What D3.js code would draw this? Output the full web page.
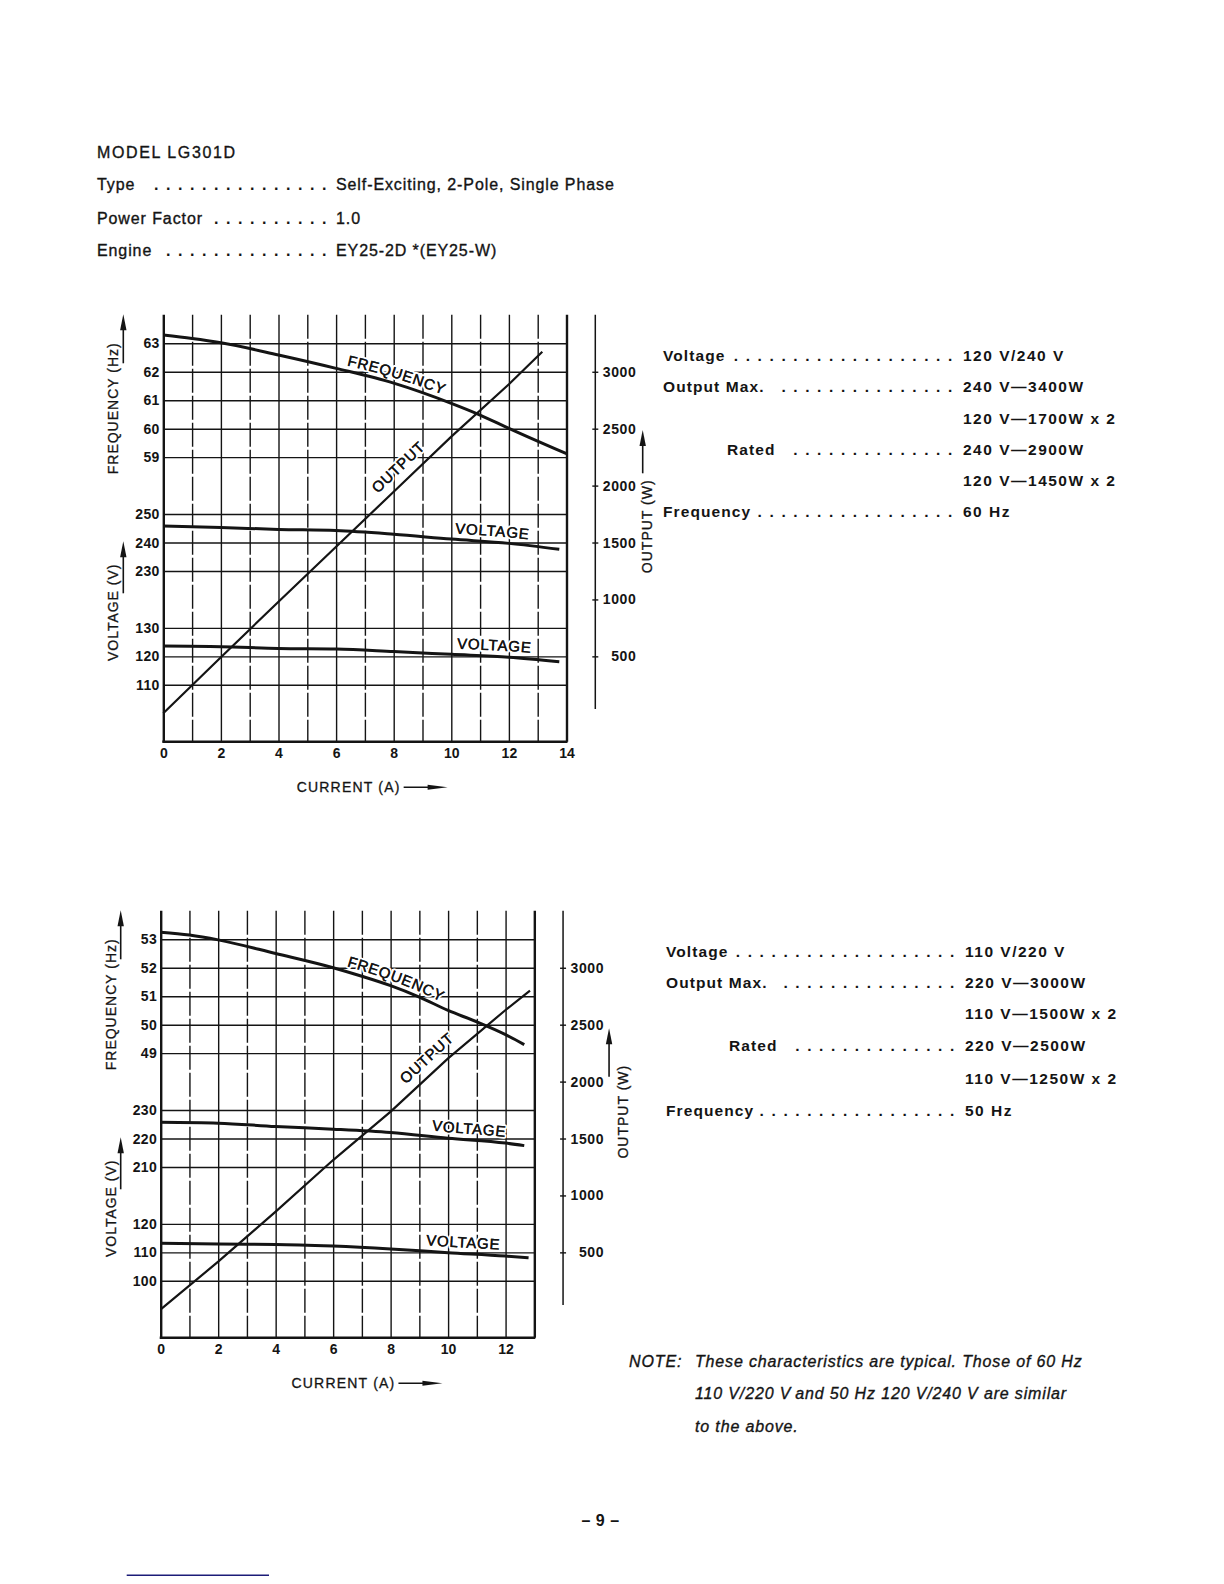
<!DOCTYPE html>
<html>
<head>
<meta charset="utf-8">
<script src="https://cdn.jsdelivr.net/npm/d3@7"></script>
<style>
  body { margin: 0; background: #fff; }
  svg { display: block; }
</style>
</head>
<body>
<svg id="page" width="1224" height="1584"></svg>
<script>
const FONT = '"Liberation Sans", Arial, Helvetica, sans-serif';
const INK = '#141414';

// ---------- data ----------

// header
const modelName = 'MODEL LG301D';
const headLabels = ['Type', 'Power Factor', 'Engine'];
const headValues = ['Self-Exciting, 2-Pole, Single Phase', '1.0', 'EY25-2D *(EY25-W)'];

// rating tables
const rateLabels = ['Voltage', 'Output Max.', '', 'Rated', '', 'Frequency'];
const rate60Values = ['120 V/240 V', '240 V\u20143400W', '120 V\u20141700W x 2', '240 V\u20142900W', '120 V\u20141450W x 2', '60 Hz'];
const rate50Values = ['110 V/220 V', '220 V\u20143000W', '110 V\u20141500W x 2', '220 V\u20142500W', '110 V\u20141250W x 2', '50 Hz'];

// note
const noteHead = 'NOTE:';
const noteLines = ['These characteristics are typical. Those of 60 Hz',
                   '110 V/220 V\u2009and 50 Hz 120 V/240 V are similar',
                   'to the above.'];

// shared axis ticks
const outputTicks = [500, 1000, 1500, 2000, 2500, 3000];

// 60 Hz chart
const current60Ticks = [0, 2, 4, 6, 8, 10, 12, 14];
const freq60Ticks = [63, 62, 61, 60, 59];
const volt240Ticks = [250, 240, 230];
const volt120Ticks = [130, 120, 110];
const freq60I = [0, 1, 2, 4, 6, 8, 10, 11, 12, 14];
const freq60Hz = [63.29, 63.17, 63.02, 62.59, 62.12, 61.6, 60.89, 60.48, 60.01, 59.12];
const volt240I = [0, 2, 4, 6, 8, 10, 12, 13.75];
const volt240V = [245.8, 245.3, 244.6, 244.2, 242.9, 241.2, 239.7, 237.6];
const volt120I = [0, 2, 4, 6, 8, 10, 12, 13.75];
const volt120V = [123.6, 123.4, 122.8, 122.6, 121.7, 120.7, 119.7, 118.1];
const out60I = [0, 2, 4, 6, 8, 10, 12, 13.16];
const out60W = [0, 492, 980, 1463, 1946, 2430, 2890, 3176];

// 50 Hz chart
const current50Ticks = [0, 2, 4, 6, 8, 10, 12];
const freq50Ticks = [53, 52, 51, 50, 49];
const volt220Ticks = [230, 220, 210];
const volt110Ticks = [120, 110, 100];
const freq50I = [0, 1, 2, 4, 6, 7, 8, 9, 10, 11, 12, 12.65];
const freq50Hz = [53.25, 53.15, 52.98, 52.5, 52.0, 51.7, 51.37, 50.97, 50.5, 50.1, 49.65, 49.3];
const volt220I = [0, 2, 4, 6, 8, 10, 12, 12.65];
const volt220V = [225.7, 225.4, 224.2, 223.3, 222.1, 220.1, 218.4, 217.5];
const volt110I = [0, 2, 4, 6, 8, 10, 12, 12.8];
const volt110V = [113.2, 112.9, 112.8, 112.2, 111.2, 109.9, 108.7, 108.1];
const out50I = [0, 2, 4, 6, 8, 10, 12, 12.85];
const out50W = [0, 418, 858, 1311, 1736, 2204, 2629, 2800];

// ---------- page ----------
const svg = d3.select('#page');
svg.append('rect').attr('width', 1224).attr('height', 1584).attr('fill', '#fff');

function txt(parent, x, y, s, size, opts = {}) {
  return parent.append('text')
    .attr('x', x).attr('y', y)
    .attr('font-family', FONT)
    .attr('font-size', size)
    .attr('font-weight', opts.weight || 'normal')
    .attr('font-style', opts.style || 'normal')
    .attr('letter-spacing', opts.ls || 0)
    .attr('text-anchor', opts.anchor || 'start')
    .attr('fill', INK)
    .attr('stroke', opts.heavy ? INK : null)
    .attr('stroke-width', opts.heavy || null)
    .text(s);
}

// label ..... value rows
function leaderRows(labels, values, o) {
  labels.forEach((lab, i) => {
    const y = o.baselines[i];
    if (lab) {
      const lx = o.labelX + (o.indent ? o.indent[i] : 0);
      const t = txt(svg, lx, y, lab, o.size, o);
      const end = lx + t.node().getComputedTextLength();
      const lastDot = o.valueX - o.dotGap;
      const n = Math.floor((lastDot - end - o.dotLead[i]) / o.dotStep) + 1;
      svg.append('g').selectAll('text')
        .data(d3.range(n))
        .join('text')
        .attr('x', k => lastDot - k * o.dotStep)
        .attr('y', y)
        .attr('font-family', FONT).attr('font-size', o.size)
        .attr('font-weight', 'bold')
        .attr('fill', INK)
        .text('.');
    }
    txt(svg, o.valueX, y, values[i], o.size, {...o, ls: o.valueLs || o.ls});
  });
}

txt(svg, 97, 157.6, modelName, 16, {ls: 1.6, heavy: 0.35});
leaderRows(headLabels, headValues, {
  labelX: 97, valueX: 336, baselines: [190.3, 223.8, 255.9],
  size: 16, ls: 0.9, heavy: 0.35, dotStep: 12, dotGap: 14, dotLead: [8, 8, 10]
});

leaderRows(rateLabels, rate60Values, {
  labelX: 663, valueX: 963, baselines: [360.7, 392.3, 423.6, 455, 485.9, 516.9],
  indent: [0, 0, 0, 64, 0, 0], size: 15.5, ls: 1.1, valueLs: 1.5, weight: 'bold',
  dotStep: 11.9, dotGap: 15, dotLead: [2, 14, 0, 16, 0, 3]
});
leaderRows(rateLabels, rate50Values, {
  labelX: 666, valueX: 965, baselines: [956.7, 987.5, 1019, 1051, 1083.5, 1116],
  indent: [0, 0, 0, 63, 0, 0], size: 15.5, ls: 1.1, valueLs: 1.5, weight: 'bold',
  dotStep: 11.9, dotGap: 15, dotLead: [2, 14, 0, 16, 0, 3]
});

// ---------- charts ----------
function arrowUp(g, x, yFrom, yTo) {
  g.append('line').attr('x1', x).attr('x2', x).attr('y1', yFrom).attr('y2', yTo + 12)
    .attr('stroke', INK).attr('stroke-width', 1.6);
  g.append('path').attr('d', `M${x},${yTo} L${x - 3.2},${yTo + 16} L${x + 3.2},${yTo + 16} Z`).attr('fill', INK);
}

function drawChart(c) {
  const g = svg.append('g');
  const x = d3.scaleLinear().domain([0, c.nCols]).range([c.x0, c.x0 + c.nCols * c.colStep]);
  const row = d3.scaleLinear().domain([0, 14]).range([c.row0, c.row0 + 14 * c.rowStep]);
  const yFreq = d3.scaleLinear().domain(d3.extent(c.freqTicks).reverse()).range([row(0), row(4)]);
  const yHi = d3.scaleLinear().domain(d3.extent(c.hiTicks).reverse()).range([row(6), row(8)]);
  const yLo = d3.scaleLinear().domain(d3.extent(c.loTicks).reverse()).range([row(10), row(12)]);
  const yOut = d3.scaleLinear().domain([0, 3000]).range([row(13), row(1)]);
  const plotW = x(c.nCols) - x(0);
  const fmt = d3.format('d');

  // vertical grid
  const vg = g.append('g').attr('transform', `translate(0,${row(-1)})`)
    .call(d3.axisBottom(x).tickValues(d3.range(c.nCols + 1)).tickSize(row(14) - row(-1)).tickFormat(''));
  vg.select('.domain').remove();
  vg.selectAll('.tick line')
    .attr('stroke', INK)
    .attr('stroke-width', d => (d === 0 || d === c.nCols) ? 2.4 : 1.4)
    .attr('stroke-dasharray', d => (d % 2 === 1 && d !== c.nCols) ? '24,3' : null);

  // horizontal grid + left tick labels
  [[yFreq, c.freqTicks], [yHi, c.hiTicks], [yLo, c.loTicks]].forEach(([s, ticks]) => {
    const a = g.append('g').attr('transform', `translate(${x(0)},0)`)
      .call(d3.axisLeft(s).tickValues(ticks).tickFormat(fmt).tickSize(-plotW).tickPadding(3.5));
    a.select('.domain').remove();
    a.attr('font-family', FONT).attr('font-size', 14);
    a.selectAll('.tick line').attr('stroke', INK).attr('stroke-width', 1.4);
    a.selectAll('.tick text').attr('font-weight', 'bold').attr('fill', INK).attr('letter-spacing', 0.4);
  });

  // bottom frame
  g.append('line').attr('x1', x(0) - 1).attr('x2', x(c.nCols) + 1)
    .attr('y1', row(14)).attr('y2', row(14))
    .attr('stroke', INK).attr('stroke-width', 2.4);

  // current labels
  const xa = g.append('g').attr('transform', `translate(0,${row(14)})`)
    .call(d3.axisBottom(x).tickValues(c.currentTicks).tickFormat(fmt).tickSize(0).tickPadding(6.5));
  xa.select('.domain').remove();
  xa.attr('font-family', FONT).attr('font-size', 14);
  xa.selectAll('.tick text').attr('font-weight', 'bold').attr('fill', INK);

  const cy = row(14) + 50;
  const ct = txt(g, x(0) + c.currentDx, cy, 'CURRENT (A)', 14, {ls: 1.2, heavy: 0.3});
  const cEnd = x(0) + c.currentDx + ct.node().getComputedTextLength() + 3;
  g.append('line').attr('x1', cEnd).attr('x2', cEnd + 34).attr('y1', cy - 4.5).attr('y2', cy - 4.5)
    .attr('stroke', INK).attr('stroke-width', 1.5);
  g.append('path').attr('d', `M${cEnd + 44},${cy - 4.5} L${cEnd + 24},${cy - 7} L${cEnd + 24},${cy - 2} Z`).attr('fill', INK);

  // output axis on the right
  const ox = x(c.nCols + 1);
  g.append('line').attr('x1', ox).attr('x2', ox).attr('y1', row(-1)).attr('y2', row(12.85))
    .attr('stroke', INK).attr('stroke-width', 1.5);
  const ra = g.append('g').attr('transform', `translate(${ox},0)`)
    .call(d3.axisRight(yOut).tickValues(outputTicks).tickFormat(fmt).tickSize(3));
  ra.select('.domain').remove();
  ra.attr('font-family', FONT).attr('font-size', 14);
  ra.selectAll('.tick line').attr('x1', -3).attr('stroke', INK).attr('stroke-width', 1.4);
  ra.selectAll('.tick text').attr('x', 41).attr('text-anchor', 'end')
    .attr('font-weight', 'bold').attr('fill', INK).attr('letter-spacing', 0.6);

  // axis titles
  const title = (cx, cyy, s) => txt(g, 0, 0, s, 14, {ls: 1, anchor: 'middle', heavy: 0.3})
    .attr('dy', '0.36em').attr('transform', `translate(${cx},${cyy}) rotate(-90)`);
  title(x(0) - 50, row(0) + 65, 'FREQUENCY (Hz)');
  arrowUp(g, x(0) - 40, row(0) + 20, row(0) - 29);
  title(x(0) - 50, row(0) + 269, 'VOLTAGE (V)');
  arrowUp(g, x(0) - 40, row(0) + 250, row(0) + 198);
  title(ox + c.outTitle[0], row(0) + c.outTitle[1], 'OUTPUT (W)');
  arrowUp(g, ox + c.outArrow[0], row(0) + c.outArrow[1], row(0) + c.outArrow[2]);

  // series
  const series = [
    {I: c.freqI, v: c.freqV, s: yFreq, w: 3, curve: d3.curveMonotoneX, label: 'FREQUENCY', at: c.labelAt[0], dy: -5.5},
    {I: c.hiI, v: c.hiV, s: yHi, w: 3, curve: d3.curveMonotoneX, label: 'VOLTAGE', at: c.labelAt[1], dy: -6},
    {I: c.loI, v: c.loV, s: yLo, w: 3, curve: d3.curveMonotoneX, label: 'VOLTAGE', at: c.labelAt[2], dy: -6},
    {I: c.outI, v: c.outV, s: yOut, w: 2.2, curve: d3.curveLinear, label: 'OUTPUT', at: c.labelAt[3], dy: -13}
  ];

  series.forEach((sr, k) => {
    const pts = d3.zip(sr.I, sr.v);
    const id = `${c.id}-lab${k}`;
    const guide = g.append('path').attr('id', id).attr('fill', 'none').attr('stroke', 'none')
      .attr('d', d3.line().x(d => x(d[0])).y(d => sr.s(d[1]) + sr.dy).curve(sr.curve)(pts));
    const node = guide.node();
    const tx = x(sr.at);
    let lo = 0, hi = node.getTotalLength();
    for (let i = 0; i < 30; i++) {
      const mid = (lo + hi) / 2;
      if (node.getPointAtLength(mid).x < tx) lo = mid; else hi = mid;
    }
    const t = g.append('text')
      .attr('font-family', FONT).attr('font-size', 15).attr('letter-spacing', 0.8)
      .attr('fill', INK).attr('stroke', '#fff').attr('stroke-width', 4)
      .attr('stroke-linejoin', 'round').attr('paint-order', 'stroke');
    t.append('textPath').attr('href', '#' + id).attr('startOffset', lo).text(sr.label);
    // second pass gives the letters a slightly heavier print weight
    g.append('text')
      .attr('font-family', FONT).attr('font-size', 15).attr('letter-spacing', 0.8)
      .attr('fill', INK).attr('stroke', INK).attr('stroke-width', 0.3)
      .append('textPath').attr('href', '#' + id).attr('startOffset', lo).text(sr.label);
  });

  series.forEach(sr => {
    g.append('path')
      .attr('d', d3.line().x(d => x(d[0])).y(d => sr.s(d[1])).curve(sr.curve)(d3.zip(sr.I, sr.v)))
      .attr('fill', 'none').attr('stroke', INK).attr('stroke-width', sr.w).attr('stroke-linecap', 'butt');
  });
}

drawChart({
  id: 'c60', nCols: 14, x0: 163.3, colStep: 28.8, row0: 343.3, rowStep: 28.46,
  currentTicks: current60Ticks, freqTicks: freq60Ticks, hiTicks: volt240Ticks, loTicks: volt120Ticks,
  freqI: freq60I, freqV: freq60Hz, hiI: volt240I, hiV: volt240V, loI: volt120I, loV: volt120V,
  outI: out60I, outV: out60W,
  labelAt: [6.37, 10.13, 10.2, 7.45],
  currentDx: 133.4, outTitle: [52, 183], outArrow: [47.4, 130, 86.7]
});

drawChart({
  id: 'c50', nCols: 13, x0: 160.7, colStep: 28.74, row0: 939.3, rowStep: 28.46,
  currentTicks: current50Ticks, freqTicks: freq50Ticks, hiTicks: volt220Ticks, loTicks: volt110Ticks,
  freqI: freq50I, freqV: freq50Hz, hiI: volt220I, hiV: volt220V, loI: volt110I, loV: volt110V,
  outI: out50I, outV: out50W,
  labelAt: [6.47, 9.43, 9.23, 8.53],
  currentDx: 130.8, outTitle: [59.4, 172.4], outArrow: [46, 137.4, 89]
});

// ---------- note and footer ----------
txt(svg, 629, 1366.5, noteHead, 16, {style: 'italic', ls: 0.9, heavy: 0.35});
noteLines.forEach((s, i) => txt(svg, 695, 1366.5 + i * 32.75, s, 16, {style: 'italic', ls: 0.85, heavy: 0.35}));
txt(svg, 600.5, 1526, '\u2013 9 \u2013', 16, {weight: 'bold', anchor: 'middle', ls: 0.5});
svg.append('line').attr('x1', 126.7).attr('x2', 269).attr('y1', 1575.3).attr('y2', 1575.3)
  .attr('stroke', '#1c1c78').attr('stroke-width', 1.5);
</script>
</body>
</html>
